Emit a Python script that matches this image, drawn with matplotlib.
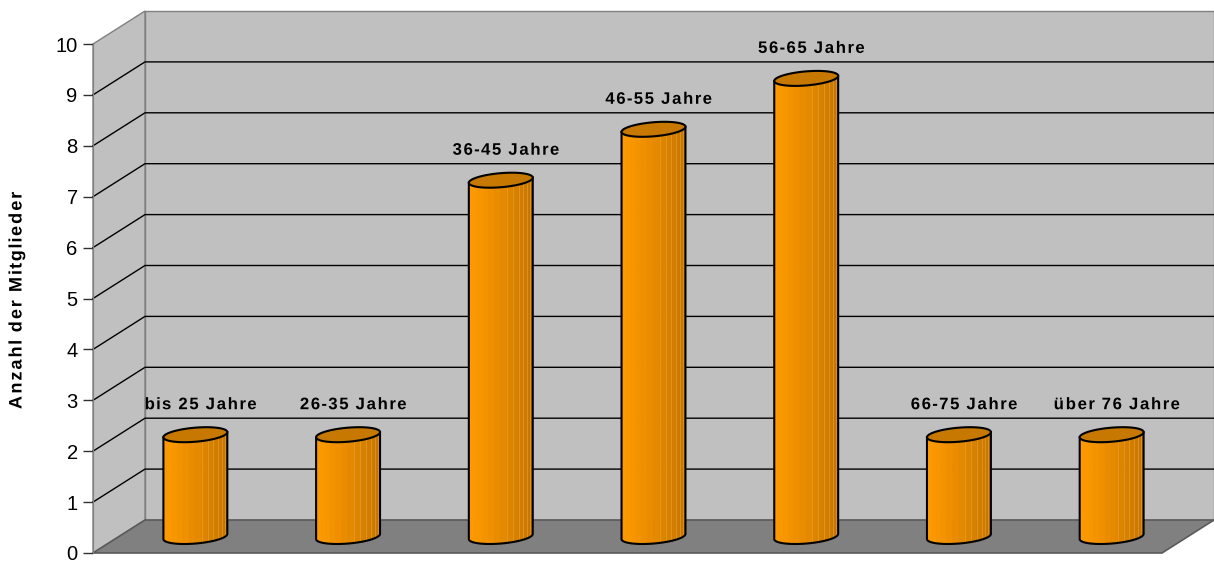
import numpy as np
import matplotlib
matplotlib.use('Agg')
import matplotlib.pyplot as plt
from matplotlib.patches import Polygon
from matplotlib.lines import Line2D
from matplotlib.path import Path
from matplotlib import patheffects as pe
from matplotlib.transforms import IdentityTransform
from matplotlib.colors import to_rgb

# ---------------- data ----------------
categories = ['bis 25 Jahre', '26-35 Jahre', '36-45 Jahre', '46-55 Jahre',
              '56-65 Jahre', '66-75 Jahre', 'über 76 Jahre']
members = [2, 2, 7, 8, 9, 2, 2]
y_ticks = list(range(0, 11))
y_label = 'Anzahl der Mitglieder'

plt.rcParams['font.family'] = ['Liberation Sans', 'DejaVu Sans']


class LetterSpacing(pe.AbstractPathEffect):
    """Spread glyph contours apart around the text centre (letter spacing)."""
    def __init__(self, factor):
        super().__init__()
        self.factor = factor

    def draw_path(self, renderer, gc, tpath, affine, rgbFace=None):
        codes = tpath.codes
        verts = np.array(tpath.vertices, dtype=float).copy()
        if codes is None or len(verts) == 0:
            renderer.draw_path(gc, tpath, affine, rgbFace)
            return
        codes = np.asarray(codes)
        valid = codes != Path.CLOSEPOLY
        m = (verts[valid, 0].min() + verts[valid, 0].max()) / 2
        starts = list(np.where(codes == Path.MOVETO)[0]) + [len(verts)]
        for a, b in zip(starts[:-1], starts[1:]):
            sel = valid[a:b]
            seg = verts[a:b, 0][sel]
            if len(seg) == 0:
                continue
            cx = (seg.min() + seg.max()) / 2
            verts[a:b, 0] += (cx - m) * (self.factor - 1)
        renderer.draw_path(gc, Path(verts, codes), affine, rgbFace)


W, H = 1214, 562
fig = plt.figure(figsize=(W / 100, H / 100), dpi=100)
fig.patch.set_facecolor('white')
ax = fig.add_axes([93 / W, 9 / H, 1069 / W, 509 / H])
ax.set_xlim(0, len(categories))
ax.set_ylim(0, 10)
ax.patch.set_visible(False)
for s in ['top', 'right', 'bottom']:
    ax.spines[s].set_visible(False)
ax.spines['left'].set_color('#808080')
ax.set_xticks([])
ax.set_yticks(y_ticks)
ax.set_yticklabels([str(t) for t in y_ticks])
ax.tick_params(axis='y', length=7, width=1, color='#303030', pad=4,
               labelsize=14.5, labelcolor='black')

DX, DY = 52, 33   # oblique depth offset (pixels) at full depth
ID = IdentityTransform()


def P(x, y, z):
    X, Y = ax.transData.transform((x, y))
    return X + DX * z, Y + DY * z


def poly(pts, **kw):
    p = Polygon(pts, closed=True, transform=ID, clip_on=False, **kw)
    ax.add_patch(p)
    return p


def line(pts, **kw):
    pts = np.asarray(pts)
    l = Line2D(pts[:, 0], pts[:, 1], transform=ID, clip_on=False, **kw)
    ax.add_line(l)


n = len(categories)
ymax = 10
wall = '#C0C0C0'
edge = '#808080'

# back wall
poly([P(0, 0, 1), P(n, 0, 1), P(n, ymax, 1), P(0, ymax, 1)],
     facecolor=wall, edgecolor=edge, lw=1, zorder=0.5)
# left wall
poly([P(0, 0, 0), P(0, ymax, 0), P(0, ymax, 1), P(0, 0, 1)],
     facecolor=wall, edgecolor=edge, lw=1, zorder=0.5)
# floor
poly([P(0, 0, 0), P(n, 0, 0), P(n, 0, 1), P(0, 0, 1)],
     facecolor='#808080', edgecolor='#5a5a5a', lw=1.2, zorder=0.7)

# gridlines
for v in y_ticks[1:-1]:
    line([P(0, v, 0), P(0, v, 1), P(n, v, 1)], color='black', lw=1, zorder=0.6)

# cylinders
R, S, T = 30.0, 11.0, 7.5
th0 = np.arctan2(S, R)
c_light = np.array(to_rgb('#FF9A00'))
c_dark = np.array(to_rgb('#C47400'))
c_top = '#C67800'


def ell(cx, cy, th):
    return np.column_stack([cx + R * np.cos(th) + S * np.sin(th), cy + T * np.sin(th)])


NSTRIP = 16
for i, v in enumerate(members):
    bx, by = P(i + 0.5, 0, 0.5)
    tx, ty = P(i + 0.5, v, 0.5)
    ths = np.linspace(th0 + np.pi, th0 + 2 * np.pi, NSTRIP * 4 + 1)
    bot = ell(bx, by, ths)
    top = ell(tx, ty, ths)
    xl, xr = bot[0, 0], bot[-1, 0]
    for k in range(NSTRIP):
        a, b = k * 4, (k + 1) * 4 + 1
        pts = np.vstack([bot[a:b], top[a:b][::-1]])
        f = ((bot[a, 0] + bot[b - 1, 0]) / 2 - xl) / (xr - xl)
        col = c_light + (c_dark - c_light) * f ** 1.3
        poly(pts, facecolor=col, edgecolor=col, lw=0.6, zorder=3)
        if k > NSTRIP // 2:
            line([bot[a], top[a]], color='#F0A840', lw=0.6, alpha=0.6, zorder=3.1)
    # outline of body
    outline = np.vstack([top[:1], bot, top[-1:]])
    line(outline, color='black', lw=1.5, zorder=3.5, solid_joinstyle='round')
    # top cap
    full = np.linspace(0, 2 * np.pi, 120)
    poly(ell(tx, ty, full), facecolor=c_top, edgecolor='black', lw=1.5, zorder=3.6)
    # label
    ax.text(tx + 5, ty + 30, categories[i], transform=ID, clip_on=False,
            ha='center', va='center', fontsize=12, fontweight='bold',
            color='black', zorder=5, path_effects=[LetterSpacing(1.18)])

fig.text(17 / W, (H - 301) / H, y_label, rotation=90, ha='center', va='center',
         fontsize=13, fontweight='bold', path_effects=[LetterSpacing(1.2)])

fig.savefig('out.png', dpi=100, facecolor='white')
